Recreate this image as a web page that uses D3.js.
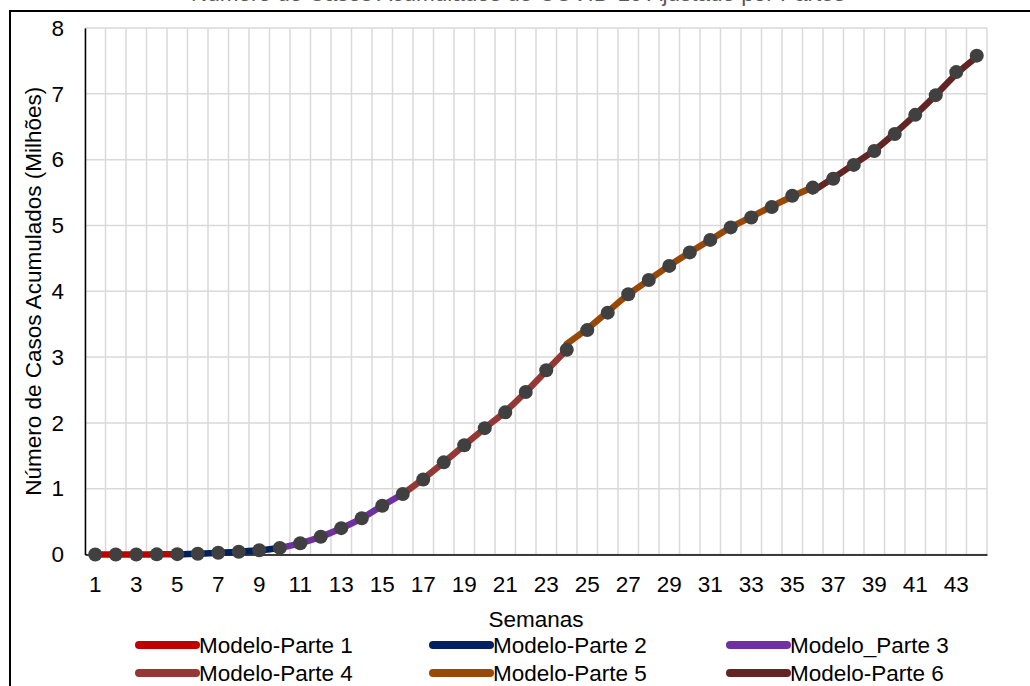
<!DOCTYPE html>
<html>
<head>
<meta charset="utf-8">
<script src="https://cdn.jsdelivr.net/npm/d3@7"></script>
<style>
  html, body { margin: 0; padding: 0; background: #fff; }
  svg { display: block; font-family: "Liberation Sans", Arial, sans-serif; }
</style>
</head>
<body>
<svg id="chart" width="1030" height="686"></svg>
<script>
// Weekly cumulative COVID-19 cases (millions)
const weeks = d3.range(1, 45);
const observed = [
  0, 0, 0, 0.002, 0.005, 0.012, 0.027, 0.042, 0.065, 0.10,
  0.17, 0.27, 0.40, 0.55, 0.74, 0.92, 1.14, 1.40, 1.66, 1.92,
  2.16, 2.47, 2.80, 3.11, 3.41, 3.675, 3.955, 4.17, 4.385, 4.59,
  4.78, 4.97, 5.12, 5.28, 5.45, 5.575, 5.71, 5.92, 6.13, 6.39,
  6.68, 6.98, 7.33, 7.58
];

// Piecewise model fits: start week and fitted values
const part1Start = 1;
const part1 = [0, 0, 0, 0.002, 0.005];
const part2Start = 5;
const part2 = [0.004, 0.012, 0.026, 0.042, 0.065, 0.10];
const part3Start = 10;
const part3 = [0.10, 0.17, 0.27, 0.40, 0.55, 0.74, 0.92];
const part4Start = 16;
const part4 = [0.92, 1.15, 1.40, 1.66, 1.92, 2.17, 2.47, 2.79, 3.11];
const part5Start = 24;
const part5 = [3.20, 3.43, 3.69, 3.95, 4.17, 4.39, 4.59, 4.78, 4.97, 5.13, 5.29, 5.44, 5.58];
const part6Start = 36;
const part6 = [5.52, 5.72, 5.93, 6.14, 6.40, 6.68, 6.98, 7.30, 7.56];

const seriesNames = ["Modelo-Parte 1", "Modelo-Parte 2", "Modelo_Parte 3",
                     "Modelo-Parte 4", "Modelo-Parte 5", "Modelo-Parte 6"];
const seriesColors = ["#C00000", "#002060", "#7030A0", "#953735", "#984807", "#632523"];
const yTicks = [0, 1, 2, 3, 4, 5, 6, 7, 8];
const xTickLabels = weeks.filter(w => w % 2 === 1);

const titleText = "Número de Casos Acumulados de COVID-19 Ajustado por Partes";
const yTitle = "Número de Casos Acumulados (Milhões)";
const xTitle = "Semanas";

const parts = [
  [part1Start, part1], [part2Start, part2], [part3Start, part3],
  [part4Start, part4], [part5Start, part5], [part6Start, part6]
].map(([s, vals], i) => ({
  name: seriesNames[i],
  color: seriesColors[i],
  points: vals.map((v, j) => ({ week: s + j, value: v }))
}));

const svg = d3.select("#chart");
const plot = { left: 85, right: 987, top: 28, bottom: 554.5 };

const x = d3.scaleBand().domain(weeks).range([plot.left, plot.right]).padding(0);
const y = d3.scaleLinear().domain([0, 8]).range([plot.bottom, plot.top]);
const cx = w => x(w) + x.bandwidth() / 2;

// outer frame
svg.append("rect")
  .attr("x", 10).attr("y", 11).attr("width", 1100).attr("height", 700)
  .attr("fill", "none").attr("stroke", "#000").attr("stroke-width", 2);

// title (sits above the frame)
svg.append("text")
  .attr("x", 518).attr("y", 1)
  .attr("text-anchor", "middle")
  .attr("font-size", 22.5)
  .attr("fill", "#595959")
  .text(titleText);

// gridlines
const grid = svg.append("g").attr("stroke", "#d9d9d9").attr("stroke-width", 1.5);
grid.selectAll("line.h").data(yTicks).join("line")
  .attr("x1", plot.left).attr("x2", plot.right)
  .attr("y1", d => y(d)).attr("y2", d => y(d));
grid.selectAll("line.v").data(weeks.concat([null])).join("line")
  .attr("x1", (d, i) => i < weeks.length ? x(d) : plot.right)
  .attr("x2", (d, i) => i < weeks.length ? x(d) : plot.right)
  .attr("y1", plot.top).attr("y2", plot.bottom);

// axes
const xAxis = d3.axisBottom(x).tickValues(xTickLabels).tickSize(0).tickPadding(22);
const gx = svg.append("g").attr("transform", `translate(0,${plot.bottom})`).call(xAxis);
gx.select(".domain").attr("stroke", "#000").attr("stroke-width", 1.5);
gx.selectAll("text").attr("font-size", 22.5).attr("fill", "#000")
  .attr("font-family", "\"Liberation Sans\", Arial, sans-serif");

const yAxis = d3.axisLeft(y).tickValues(yTicks).tickSize(0).tickPadding(21).tickFormat(d3.format("d"));
const gy = svg.append("g").attr("transform", `translate(${plot.left},0)`).call(yAxis);
gy.select(".domain").attr("stroke", "#000").attr("stroke-width", 1.5);
gy.selectAll("text").attr("font-size", 22.5).attr("fill", "#000")
  .attr("font-family", "\"Liberation Sans\", Arial, sans-serif");

// axis titles
svg.append("text")
  .attr("x", (plot.left + plot.right) / 2).attr("y", 627)
  .attr("text-anchor", "middle").attr("font-size", 22.5).attr("fill", "#000")
  .text(xTitle);
svg.append("text")
  .attr("transform", `translate(41,${(plot.top + plot.bottom) / 2}) rotate(-90)`)
  .attr("text-anchor", "middle").attr("font-size", 22.5).attr("fill", "#000")
  .text(yTitle);

// model lines
const line = d3.line()
  .x(d => cx(d.week))
  .y(d => y(d.value))
  .curve(d3.curveCatmullRom.alpha(0.5));

svg.append("g").selectAll("path").data(parts).join("path")
  .attr("d", d => line(d.points))
  .attr("fill", "none")
  .attr("stroke", d => d.color)
  .attr("stroke-width", 6.5)
  .attr("stroke-linecap", "round")
  .attr("stroke-linejoin", "round");

// observed data markers
svg.append("g").selectAll("circle").data(weeks).join("circle")
  .attr("cx", w => cx(w))
  .attr("cy", (w, i) => y(observed[i]))
  .attr("r", 7)
  .attr("fill", "#404040");

// legend
const legendCols = [139, 433, 730];
const legendRows = [645, 673];
const lg = svg.append("g").selectAll("g").data(parts).join("g")
  .attr("transform", (d, i) => `translate(${legendCols[i % 3]},${legendRows[Math.floor(i / 3)]})`);
lg.append("line")
  .attr("x1", 0).attr("x2", 57).attr("y1", 0).attr("y2", 0)
  .attr("stroke", d => d.color).attr("stroke-width", 8).attr("stroke-linecap", "round");
lg.append("text")
  .attr("x", 60).attr("y", 8)
  .attr("font-size", 22.5).attr("fill", "#000")
  .text(d => d.name);
</script>
</body>
</html>
